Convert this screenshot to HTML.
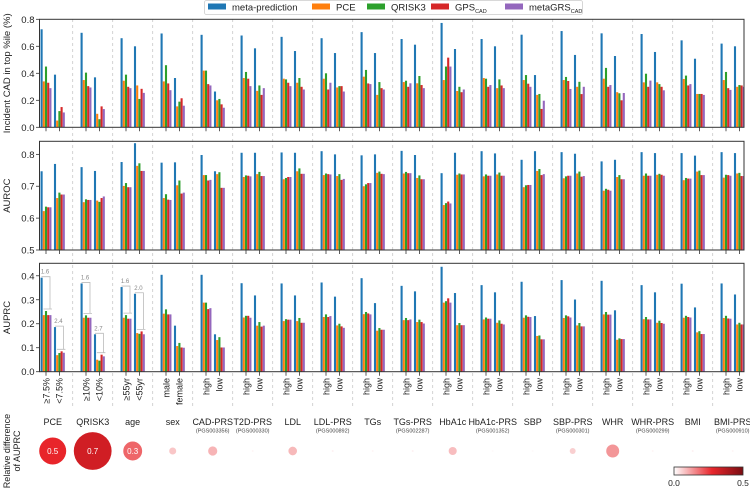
<!DOCTYPE html>
<html><head><meta charset="utf-8"><style>
html,body{margin:0;padding:0;background:#fff;}
svg{display:block;font-family:"Liberation Sans",sans-serif;}
</style></head><body>
<svg id="chart" width="750" height="488" viewBox="0 0 750 488" xmlns="http://www.w3.org/2000/svg"></svg>
<script>
const groups=["PCE","QRISK3","age","sex","CAD-PRS","T2D-PRS","LDL","LDL-PRS","TGs","TGs-PRS","HbA1c","HbA1c-PRS","SBP","SBP-PRS","WHR","WHR-PRS","BMI","BMI-PRS"];
const subPGS=["","","","","(PGS003356)","(PGS000330)","","(PGS000892)","","(PGS002287)","","(PGS001352)","","(PGS000301)","","(PGS000299)","","(PGS000910)"];
const subLabels=[["≥7.5%","<7.5%"],["≥10%","<10%"],["≥55yr","<55yr"],["male","female"]];
const seriesNames=["meta-prediction","PCE","QRISK3","GPS","metaGRS"];
const seriesColors=["#1f77b4","#ff7f0e","#2ca02c","#d62728","#9467bd"];
const topPct=[
[[0.726,0.34,0.45,0.33,0.29],[0.39,0.05,0.12,0.15,0.11]],
[[0.70,0.35,0.405,0.305,0.295],[0.37,0.10,0.06,0.155,0.135]],
[[0.66,0.345,0.39,0.30,0.29],[0.60,0.31,0.21,0.285,0.255]],
[[0.695,0.34,0.46,0.325,0.275],[0.365,0.155,0.19,0.215,0.16]],
[[0.685,0.42,0.42,0.32,0.31],[0.265,0.20,0.21,0.17,0.145]],
[[0.68,0.365,0.41,0.36,0.305],[0.585,0.27,0.31,0.24,0.29]],
[[0.67,0.36,0.355,0.33,0.305],[0.565,0.33,0.365,0.30,0.28]],
[[0.66,0.36,0.40,0.28,0.33],[0.55,0.295,0.305,0.305,0.265]],
[[0.705,0.375,0.425,0.325,0.32],[0.55,0.24,0.335,0.29,0.28]],
[[0.654,0.335,0.345,0.30,0.326],[0.612,0.326,0.38,0.313,0.29]],
[[0.773,0.35,0.45,0.516,0.45],[0.58,0.269,0.30,0.26,0.28]],
[[0.654,0.365,0.36,0.30,0.313],[0.60,0.29,0.355,0.31,0.29]],
[[0.686,0.35,0.387,0.323,0.30],[0.387,0.24,0.247,0.136,0.197]],
[[0.713,0.35,0.373,0.343,0.284],[0.536,0.30,0.337,0.246,0.30]],
[[0.696,0.36,0.44,0.30,0.313],[0.528,0.26,0.252,0.20,0.254]],
[[0.691,0.333,0.397,0.30,0.346],[0.558,0.333,0.32,0.30,0.274]],
[[0.644,0.358,0.383,0.31,0.32],[0.508,0.247,0.247,0.247,0.24]],
[[0.62,0.35,0.41,0.29,0.277],[0.60,0.30,0.313,0.31,0.30]]];
const auroc=[
[[0.747,0.622,0.636,0.634,0.634],[0.77,0.663,0.68,0.674,0.674]],
[[0.76,0.65,0.659,0.657,0.657],[0.748,0.655,0.651,0.663,0.668]],
[[0.776,0.701,0.71,0.697,0.697],[0.835,0.764,0.772,0.748,0.748]],
[[0.774,0.663,0.675,0.658,0.657],[0.775,0.703,0.718,0.677,0.68]],
[[0.798,0.735,0.735,0.718,0.72],[0.747,0.738,0.744,0.695,0.695]],
[[0.805,0.729,0.734,0.733,0.731],[0.805,0.738,0.745,0.732,0.732]],
[[0.806,0.722,0.726,0.729,0.729],[0.805,0.747,0.756,0.739,0.739]],
[[0.81,0.735,0.74,0.738,0.737],[0.80,0.732,0.738,0.72,0.723]],
[[0.797,0.70,0.706,0.71,0.71],[0.80,0.742,0.746,0.739,0.738]],
[[0.811,0.74,0.745,0.741,0.741],[0.798,0.726,0.734,0.722,0.722]],
[[0.741,0.641,0.647,0.652,0.646],[0.805,0.736,0.74,0.737,0.737]],
[[0.81,0.731,0.737,0.733,0.733],[0.803,0.737,0.743,0.733,0.733]],
[[0.783,0.697,0.703,0.704,0.704],[0.81,0.748,0.754,0.735,0.738]],
[[0.807,0.725,0.731,0.733,0.733],[0.802,0.74,0.746,0.73,0.732]],
[[0.778,0.686,0.692,0.689,0.686],[0.783,0.729,0.735,0.722,0.722]],
[[0.807,0.733,0.74,0.733,0.733],[0.804,0.736,0.739,0.736,0.733]],
[[0.804,0.719,0.726,0.724,0.724],[0.796,0.746,0.749,0.735,0.735]],
[[0.807,0.727,0.736,0.735,0.733],[0.804,0.74,0.742,0.732,0.732]]];
const auprc=[
[[0.392,0.236,0.253,0.236,0.236],[0.186,0.069,0.078,0.085,0.079]],
[[0.368,0.225,0.235,0.225,0.225],[0.156,0.05,0.046,0.071,0.064]],
[[0.353,0.225,0.236,0.221,0.221],[0.325,0.161,0.158,0.168,0.156]],
[[0.404,0.242,0.26,0.239,0.239],[0.192,0.107,0.12,0.101,0.10]],
[[0.404,0.288,0.288,0.261,0.265],[0.156,0.132,0.144,0.101,0.101]],
[[0.369,0.226,0.233,0.233,0.225],[0.318,0.192,0.207,0.188,0.192]],
[[0.368,0.211,0.219,0.217,0.217],[0.318,0.211,0.224,0.204,0.204]],
[[0.372,0.228,0.239,0.228,0.232],[0.313,0.193,0.20,0.189,0.183]],
[[0.39,0.24,0.249,0.243,0.239],[0.286,0.171,0.182,0.175,0.175]],
[[0.358,0.215,0.224,0.215,0.218],[0.335,0.207,0.217,0.207,0.201]],
[[0.4375,0.288,0.294,0.306,0.288],[0.328,0.194,0.203,0.194,0.194]],
[[0.361,0.218,0.226,0.221,0.221],[0.331,0.204,0.214,0.20,0.197]],
[[0.375,0.225,0.235,0.229,0.228],[0.232,0.149,0.151,0.135,0.135]],
[[0.382,0.224,0.235,0.231,0.226],[0.301,0.193,0.203,0.189,0.189]],
[[0.379,0.239,0.249,0.238,0.238],[0.256,0.133,0.139,0.136,0.136]],
[[0.361,0.219,0.228,0.218,0.218],[0.331,0.204,0.2125,0.203,0.20]],
[[0.367,0.225,0.233,0.228,0.226],[0.268,0.164,0.169,0.157,0.157]],
[[0.368,0.224,0.233,0.222,0.221],[0.322,0.197,0.204,0.197,0.197]]];
const ratioLabels=[["1.6","2.4"],["1.6","2.7"],["1.6","2.0"]];
const relDiff=[0.5,0.7,0.35,0.13,0.17,0.02,0.16,0.03,0.02,0.03,0.15,0.01,0.01,0.11,0.24,0.02,0.03,0.02];
const relDiffLabels=["0.5","0.7","0.3"];

const NS="http://www.w3.org/2000/svg";
const svg=document.getElementById("chart");
function el(tag,attrs,parent){const e=document.createElementNS(NS,tag);for(const k in attrs)e.setAttribute(k,attrs[k]);(parent||svg).appendChild(e);return e;}
const L=39.5,R=744;
function groupStart(g){return 32.7+40*g;}
function tickX(g,s){return groupStart(g)+20+(s===0?-6.7:6.7);}
const panels=[
 {name:"top-percentile",data:topPct,top:19.3,bottom:127.3,min:0,max:0.8,ticks:[0,0.2,0.4,0.6,0.8],title:"Incident CAD in top %ile (%)"},
 {name:"auroc",data:auroc,top:141.3,bottom:250,min:0.5,max:0.841,ticks:[0.5,0.6,0.7,0.8],title:"AUROC"},
 {name:"auprc",data:auprc,top:263.3,bottom:371.7,min:0,max:0.452,ticks:[0,0.1,0.2,0.3,0.4],title:"AUPRC"}];

for(let g=1;g<18;g++){const x=groupStart(g);
 const d=el("line",{x1:x,x2:x,y1:19,y2:408,stroke:"#c8c8c8","stroke-width":0.8,"stroke-dasharray":"3,3"});
 
 }

panels.forEach(p=>{
 const y=v=>p.bottom-(v-p.min)/(p.max-p.min)*(p.bottom-p.top);
 const gp=el("g",{});
 
 
 const clip=el("clipPath",{id:"clip-"+p.name},gp);
 el("rect",{x:L,y:p.top,width:R-L,height:p.bottom-p.top},clip);
 const bars=el("g",{"clip-path":"url(#clip-"+p.name+")"},gp);
 p.data.forEach((grp,g)=>grp.forEach((vals,s)=>vals.forEach((v,i)=>{
  const cx=tickX(g,s)+(i-2)*2.2;
  const b=el("rect",{x:cx-1.05,y:y(v),width:2.1,height:Math.max(0,p.bottom-y(v)),fill:seriesColors[i]},bars);
  
  
 })));
 const fr=el("rect",{x:L,y:p.top,width:R-L,height:p.bottom-p.top,fill:"none",stroke:"#333","stroke-width":1},gp);
 
 
 p.ticks.forEach(t=>{const ty=y(t);
  el("line",{x1:L-3.5,x2:L,y1:ty,y2:ty,stroke:"#333","stroke-width":0.8},gp);
  const tl=el("text",{x:L-5,y:ty+3.5,"font-size":9.5,"text-anchor":"end",fill:"#222"},gp);
  tl.textContent=t.toFixed(1);
  
  });
 for(let g=0;g<18;g++)for(let s=0;s<2;s++){const tx=tickX(g,s);if(tx<R)el("line",{x1:tx,x2:tx,y1:p.bottom,y2:p.bottom+4,stroke:"#333","stroke-width":0.8},gp);}
 const cy=(p.top+p.bottom)/2;
 const tt=el("text",{x:10,y:cy,"font-size":9.5,"text-anchor":"middle",fill:"#222",transform:`rotate(-90 10 ${cy})`},gp);
 tt.textContent=p.title;
 
 
 p.y=y;
});

const py=panels[2].y;
for(let g=0;g<3;g++)for(let s=0;s<2;s++){
 const vals=auprc[g][s];const m=vals[0];const others=Math.max(...vals.slice(1));
 const tx=tickX(g,s);const xl=tx-4.5,xr=tx+4;
 const ga=el("g",{stroke:"#bbb","stroke-width":0.8,fill:"none"});
 
 
 el("path",{d:`M${xl},${py(m)-1} H${xr} V${py(others)-2} M${xl+2},${py(others)-2} H${xr+2}`},ga);
 const lt=el("text",{x:tx-1,y:py(m)-4,"font-size":6,fill:"#888","text-anchor":"middle"});
 lt.textContent=ratioLabels[g][s];
 
 
}

for(let g=0;g<18;g++)for(let s=0;s<2;s++){const tx=tickX(g,s);
 const lab=g<4?subLabels[g][s]:(s?"low":"high");
 const t=el("text",{x:tx+3.3,y:378,"font-size":9,fill:"#222","text-anchor":"end",transform:`rotate(-90 ${tx+3.3} 378)`});
 t.textContent=lab;
 
 }
for(let g=0;g<18;g++){const cx=groupStart(g)+20;
 const t=el("text",{x:cx,y:425,"font-size":9,fill:"#222","text-anchor":"middle"});
 t.textContent=groups[g];
 
 
 if(subPGS[g]){const s=el("text",{x:cx,y:432.5,"font-size":5.5,fill:"#444","text-anchor":"middle"});
  s.textContent=subPGS[g];
  
  }}
function cmap(v){let r,g,b;
 if(v<=0.5){const u=v/0.5;r=255-(255-232)*u;g=255-(255-37)*u;b=255-(255-42)*u;}
 else{const u=Math.min(1,(v-0.5)/0.2);r=232-(232-208)*u;g=37-(37-30)*u;b=42-(42-36)*u;}
 return `rgb(${r|0},${g|0},${b|0})`;}
relDiff.forEach((v,g)=>{const cx=groupStart(g)+20;const r=Math.max(1,27*v);
 const c=el("circle",{cx:cx,cy:451,r:r,fill:cmap(v)});
 
 
 if(g<3){const t=el("text",{x:cx,y:454,"font-size":8,fill:"#fff","text-anchor":"middle"});
  t.textContent=relDiffLabels[g];
  
  }});
const rt=el("text",{x:0,y:0,"font-size":9,fill:"#222","text-anchor":"middle",transform:"translate(12,451) rotate(-90)"});


el("tspan",{x:0,dy:-2},rt).textContent="Relative difference";
el("tspan",{x:0,dy:10},rt).textContent="of AUPRC";
const defs=el("defs",{});
const lg=el("linearGradient",{id:"cb",x1:0,x2:1,y1:0,y2:0},defs);
el("stop",{offset:"0","stop-color":"#ffffff"},lg);
el("stop",{offset:"0.55","stop-color":"#e8262c"},lg);
el("stop",{offset:"1","stop-color":"#7a0d12"},lg);
const cb=el("rect",{x:674,y:467,width:69,height:8,fill:"url(#cb)",stroke:"#333","stroke-width":0.8});


[["0.0",674],["0.5",743]].forEach(([s,x])=>{const t=el("text",{x:x,y:486,"font-size":8.5,fill:"#222","text-anchor":"middle"});t.textContent=s;
 
 });
const lgG=el("g",{});


el("rect",{x:204.5,y:0.5,width:378,height:14,fill:"#fff",stroke:"#ccc","stroke-width":0.8,rx:2},lgG);
const legX=[208,312,367,431,505];
seriesNames.forEach((n,i)=>{
 const e=el("g",{},lgG);
 
 
 el("rect",{x:legX[i],y:3.5,width:18,height:6,fill:seriesColors[i]},e);
 const t=el("text",{x:legX[i]+24,y:10.5,"font-size":9.5,fill:"#222"},e);
 t.textContent=n;
 if(i>=3){const sb=el("tspan",{"font-size":5.5,dy:2.5},t);sb.textContent="CAD";}
});
</script>
</body></html>
